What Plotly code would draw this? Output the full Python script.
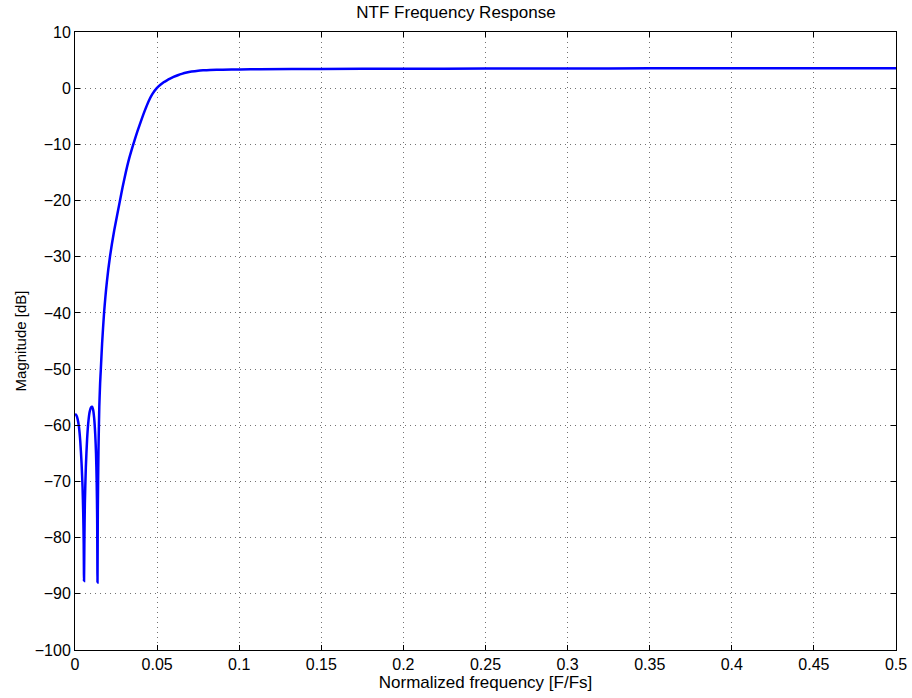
import plotly.graph_objects as go

freq = [0.0, 0.0008, 0.0016, 0.0024, 0.0032, 0.0040, 0.0046, 0.0050, 0.0053, 0.0055,
        0.0057, 0.0060, 0.0066, 0.0074, 0.0082, 0.0090, 0.0098, 0.0104, 0.0110, 0.0117,
        0.0123, 0.0128, 0.0132, 0.0135, 0.0137, 0.0139, 0.0143, 0.0148, 0.0153, 0.0157,
        0.0165, 0.0177, 0.0194, 0.0213, 0.0239, 0.0274, 0.0290, 0.0310, 0.0330, 0.0355,
        0.0380, 0.0406, 0.0425, 0.0447, 0.0470, 0.0498, 0.0520, 0.0540, 0.0560, 0.0579,
        0.0600, 0.0630, 0.0650, 0.0680, 0.0710, 0.0750, 0.0780, 0.0822, 0.0900, 0.1005,
        0.1127, 0.15, 0.2, 0.25, 0.3, 0.35, 0.4, 0.45, 0.5]
mag_db = [-58.0, -58.2, -58.9, -60.3, -62.8, -66.8, -71.0, -75.5, -81.0, -87.7,
          -81.0, -74.0, -67.5, -62.3, -59.2, -57.5, -56.8, -56.7, -57.2, -58.8,
          -61.5, -65.0, -70.0, -76.5, -88.0, -75.0, -64.5, -56.7, -52.5, -50.2,
          -45.5, -40.0, -34.5, -30.0, -25.3, -20.0, -17.6, -14.9, -12.5, -10.0,
          -7.7, -5.5, -4.0, -2.4, -1.1, 0.0, 0.6, 1.05, 1.4, 1.7,
          2.0, 2.35, 2.55, 2.8, 2.97, 3.12, 3.18, 3.24, 3.29, 3.33,
          3.37, 3.42, 3.46, 3.49, 3.51, 3.53, 3.54, 3.55, 3.55]

x_ticks = [0, 0.05, 0.1, 0.15, 0.2, 0.25, 0.3, 0.35, 0.4, 0.45, 0.5]
x_labels = ["0", "0.05", "0.1", "0.15", "0.2", "0.25", "0.3", "0.35", "0.4", "0.45", "0.5"]
y_ticks = list(range(-100, 11, 10))

fig = go.Figure()
fig.add_trace(go.Scatter(x=freq, y=mag_db, mode="lines", line_shape="spline",
                         line=dict(color="#0000ff", width=2.5, smoothing=0.6),
                         showlegend=False))

font_family = "Liberation Sans, Arial, Helvetica, sans-serif"
axis_common = dict(
    showline=True, linecolor="black", linewidth=1, mirror="ticks",
    ticks="inside", ticklen=5, tickcolor="black", tickwidth=1,
    showgrid=True, gridcolor="rgba(0,0,0,0.55)", griddash="1px,4px", gridwidth=1,
    zeroline=False, automargin=False,
    tickfont=dict(family=font_family, size=16, color="black"),
)

fig.update_layout(
    width=912, height=698,
    margin=dict(l=75, r=16, t=32, b=48),
    paper_bgcolor="white", plot_bgcolor="white",
    title=dict(text="NTF Frequency Response", x=0.5, xanchor="center",
               y=1 - 12 / 698, yanchor="middle",
               font=dict(family=font_family, size=17, color="black")),
    xaxis=dict(range=[0, 0.5], tickvals=x_ticks, ticktext=x_labels,
               title=dict(text="Normalized frequency [F/Fs]", standoff=2,
                          font=dict(family=font_family, size=17, color="black")),
               **axis_common),
    yaxis=dict(range=[-100, 10], tickvals=y_ticks,
               title=dict(text="Magnitude [dB]", standoff=4,
                          font=dict(family=font_family, size=15, color="black")),
               **axis_common),
)

fig.write_html("out.html")
